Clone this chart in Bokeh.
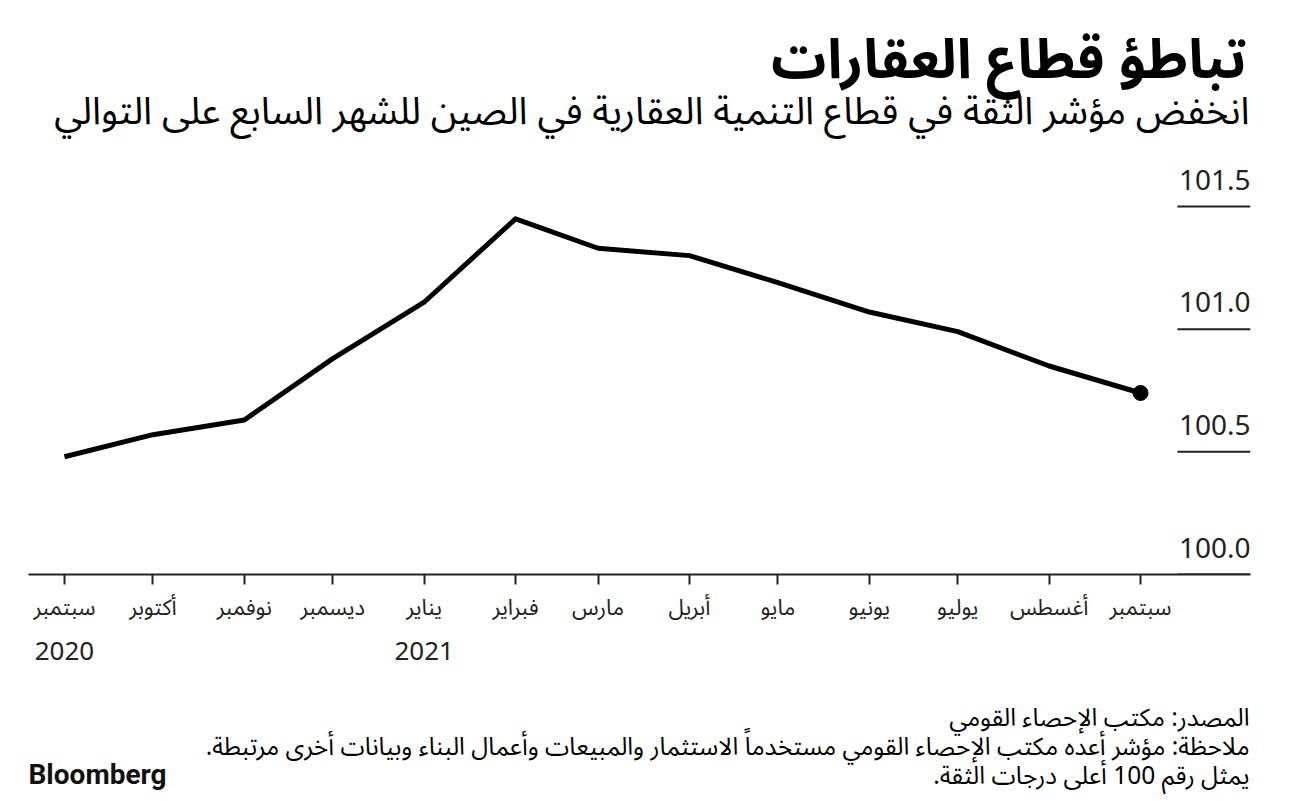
import pandas as pd
from bokeh.plotting import figure
from bokeh.layouts import column
from bokeh.models import LinearAxis, FixedTicker, ColumnDataSource, Range1d
from bokeh.core.properties import value
from bokeh.embed import file_html
from bokeh.resources import INLINE

# ---------------- data ----------------
dates = ["2020-09-01", "2020-10-01", "2020-11-01", "2020-12-01", "2021-01-01",
         "2021-02-01", "2021-03-01", "2021-04-01", "2021-05-01", "2021-06-01",
         "2021-07-01", "2021-08-01", "2021-09-01"]
values = [100.48, 100.57, 100.63, 100.88, 101.11, 101.45, 101.33, 101.30,
          101.19, 101.07, 100.99, 100.85, 100.74]
month_labels = ["سبتمبر", "أكتوبر", "نوفمبر", "ديسمبر", "يناير", "فبراير", "مارس",
                "أبريل", "مايو", "يونيو", "يوليو", "أغسطس", "سبتمبر"]
year_dates = ["2020-09-01", "2021-01-01"]
year_labels = ["2020", "2021"]
y_ticks = [100.0, 100.5, 101.0, 101.5]
y_tick_labels = ["100.0", "100.5", "101.0", "101.5"]

RLM = "\u200f"
title = "تباطؤ قطاع العقارات"
subtitle = "انخفض مؤشر الثقة في قطاع التنمية العقارية في الصين للشهر السابع على التوالي"
source_note = "المصدر: مكتب الإحصاء القومي"
note1 = "ملاحظة: مؤشر أعده مكتب الإحصاء القومي مستخدماً الاستثمار والمبيعات وأعمال البناء وبيانات أخرى مرتبطة." + RLM
note2 = "يمثل رقم 100 أعلى درجات الثقة." + RLM
brand = "Bloomberg"

# ---------------- derived ----------------
t0 = pd.Timestamp(dates[0])
xd = [int((pd.Timestamp(d) - t0).days) for d in dates]
xy = [int((pd.Timestamp(d) - t0).days) for d in year_dates]

W = 1296
LEFT, RIGHT = 28, 1250
HEAD_H, MAIN_H, FOOT_H = 156, 524, 121
FOOT_Y0 = HEAD_H + MAIN_H
FRAME_TOP, FRAME_H = 157, 417
X_START, X_END = -12.2, 402.3
ARABIC = "Noto Sans Arabic, Noto Sans, DejaVu Sans"
NUM = "Noto Sans"
INK = "#222222"


def blank(h):
    f = figure(width=W, height=h, x_range=Range1d(LEFT, RIGHT), y_range=Range1d(h, 0),
               output_backend="svg", toolbar_location=None,
               x_axis_location=None, y_axis_location=None,
               min_border_left=LEFT, min_border_right=W - RIGHT,
               min_border_top=0, min_border_bottom=0)
    f.title.visible = False
    f.outline_line_color = None
    f.xgrid.visible = False
    f.ygrid.visible = False
    return f


def txt(f, s, x, y, size, style="normal", align="right", font=ARABIC, color="black"):
    f.text(x=[x], y=[y], text=[s], text_align=align, text_baseline="middle",
           text_font=value(font), text_font_size=size, text_font_style=style,
           text_color=color)


# ---------------- header ----------------
head = blank(HEAD_H)
txt(head, title, RIGHT - 4, 60, "55px", "bold")
txt(head, subtitle, RIGHT - 1, 111, "38px")

# ---------------- main chart ----------------
p = figure(width=W, height=MAIN_H, x_range=(X_START, X_END), y_range=(100.0, 101.7),
           output_backend="svg", toolbar_location=None, y_axis_location=None,
           x_axis_location=None,
           min_border_left=LEFT, min_border_right=W - RIGHT,
           min_border_top=FRAME_TOP - HEAD_H,
           min_border_bottom=MAIN_H - (FRAME_TOP - HEAD_H) - FRAME_H)
p.title.visible = False
p.outline_line_color = None
p.xgrid.visible = False
p.ygrid.visible = False

ax = LinearAxis(ticker=FixedTicker(ticks=xd),
                major_label_overrides={k: v for k, v in zip(xd, month_labels)})
ax.axis_line_color = INK
ax.axis_line_width = 2
ax.major_tick_line_color = INK
ax.major_tick_line_width = 2
ax.major_tick_in = 0
ax.major_tick_out = 10
ax.minor_tick_line_color = None
ax.major_label_text_font = ARABIC
ax.major_label_text_font_size = "22px"
ax.major_label_text_color = INK
ax.major_label_standoff = 0
p.add_layout(ax, "below")

ay = LinearAxis(ticker=FixedTicker(ticks=xy),
                major_label_overrides={k: v for k, v in zip(xy, year_labels)})
ay.axis_line_color = None
ay.major_tick_line_color = None
ay.minor_tick_line_color = None
ay.major_label_text_font = NUM
ay.major_label_text_font_size = "26px"
ay.major_label_text_color = INK
ay.major_label_standoff = 2
p.add_layout(ay, "below")

tsrc = ColumnDataSource(dict(x=[X_END] * len(y_ticks), x0=[X_END - 24.8] * len(y_ticks),
                             y=y_ticks, t=y_tick_labels))
p.segment(x0="x0", y0="y", x1="x", y1="y", source=tsrc, line_color=INK, line_width=2)
p.text(x="x", y="y", text="t", source=tsrc, text_align="right", text_baseline="bottom",
       x_offset=0, y_offset=-17, text_font=value(NUM), text_font_size="28px",
       text_color=INK)

src = ColumnDataSource(dict(x=xd, y=values))
p.line("x", "y", source=src, line_color="black", line_width=5, line_join="round")
p.scatter(x=[xd[-1]], y=[values[-1]], size=15, color="black")

# ---------------- footer ----------------
foot = blank(FOOT_H)
txt(foot, source_note, RIGHT - 1, 717 - FOOT_Y0, "24.5px")
txt(foot, note1, RIGHT - 1, 746 - FOOT_Y0, "24.5px")
txt(foot, note2, RIGHT - 1, 775 - FOOT_Y0, "24.5px")
txt(foot, brand, LEFT, 774 - FOOT_Y0, "28px", "bold", "left", "Roboto", "#111111")

layout = column(head, p, foot, spacing=0)
open("out.html", "w").write(file_html(layout, INLINE))
